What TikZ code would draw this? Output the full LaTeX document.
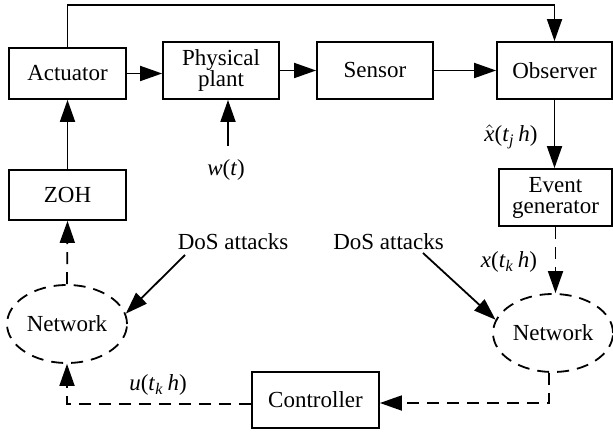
\documentclass[tikz,border=0pt]{standalone}
\usepackage{fontspec}
\setmainfont{Liberation Serif}
\newfontfamily\tms{Liberation Serif}
\usetikzlibrary{arrows.meta,shapes.geometric}
\begin{document}
\begin{tikzpicture}[x=0.5pt,y=-0.5pt,
  font=\tms\fontsize{11.5}{12.5}\selectfont,
  lw/.style={line width=0.9pt},
  box/.style={draw,lw,inner sep=0pt,align=center},
  net/.style={draw,lw,ellipse,dash pattern=on 6pt off 4pt,minimum width=60pt,minimum height=39pt,inner sep=0pt},
  arr/.style={lw,-{Triangle[length=11pt,width=7.5pt]}},
  darr/.style={arr,dash pattern=on 6pt off 4pt},
  lab/.style={inner sep=0pt}]
\useasboundingbox (0,0) rectangle (613,432);
\node[box,minimum width=58.5pt,minimum height=25.5pt] (act) at (67.5,73.5) {Actuator};
\node[box,minimum width=58pt,minimum height=28.5pt] (plant) at (221,70.5) {Physical\\[-2pt]plant};
\node[box,minimum width=58pt,minimum height=28.5pt] (sen) at (375,70.5) {Sensor};
\node[box,minimum width=57.5pt,minimum height=28.5pt] (obs) at (554.5,70.5) {Observer};
\node[box,minimum width=58.5pt,minimum height=25pt] (zoh) at (67.5,195) {ZOH};
\node[box,minimum width=56.5pt,minimum height=28.5pt] (ev) at (555.5,197.5) {Event\\[-2pt]generator};
\node[box,minimum width=63.5pt,minimum height=28pt] (ctrl) at (315.5,400) {Controller};
\node[net] (netL) at (67,324) {Network};
\node[net] (netR) at (553,333) {Network};
\node[lab] (wt) at (226,170) {\textit{w}(\textit{t})};
\node[lab] (xh) at (511,137) {$\hat{\mbox{\tms\itshape x}}$(\textit{t}\textsubscript{\textit{j}}\,\textit{h})};
\node[lab] (xk) at (509,262) {\textit{x}(\textit{t}\textsubscript{\textit{k}}\,\textit{h})};
\node[lab] (uk) at (158,385) {\textit{u}(\textit{t}\textsubscript{\textit{k}}\,\textit{h})};
\node[lab] (dosL) at (233,242) {DoS attacks};
\node[lab] (dosR) at (388.5,242) {DoS attacks};
\coordinate (wtop) at (228,146);
\coordinate (dLs) at (185,255);
\coordinate (dRs) at (423,253);
% solid connectors
\draw[arr] (act.north) -- ++(0,-42) -| (obs.north);
\draw[arr] (act.east) -- (act.east -| plant.west);
\draw[arr] (plant.east) -- (sen.west);
\draw[arr] (sen.east) -- (obs.west);
\draw[arr] (wtop) -- (wtop |- plant.south);
\draw[arr] (zoh.north) -- (act.south);
\draw[arr] (obs.south) -- (obs.south |- ev.north);
\draw[arr] (dLs) -- (netL.10);
\draw[arr] (dRs) -- (netR.167);
% dashed connectors
\draw[darr] (ev.south) -- (ev.south |- netR.north);
\draw[darr] ([xshift=-2pt]netR.south) |- ([yshift=-1.5pt]ctrl.east);
\draw[darr] ([yshift=-2pt]ctrl.west) -| (netL.south);
\draw[darr] (netL.north) -- (zoh.south);
\end{tikzpicture}
\end{document}
